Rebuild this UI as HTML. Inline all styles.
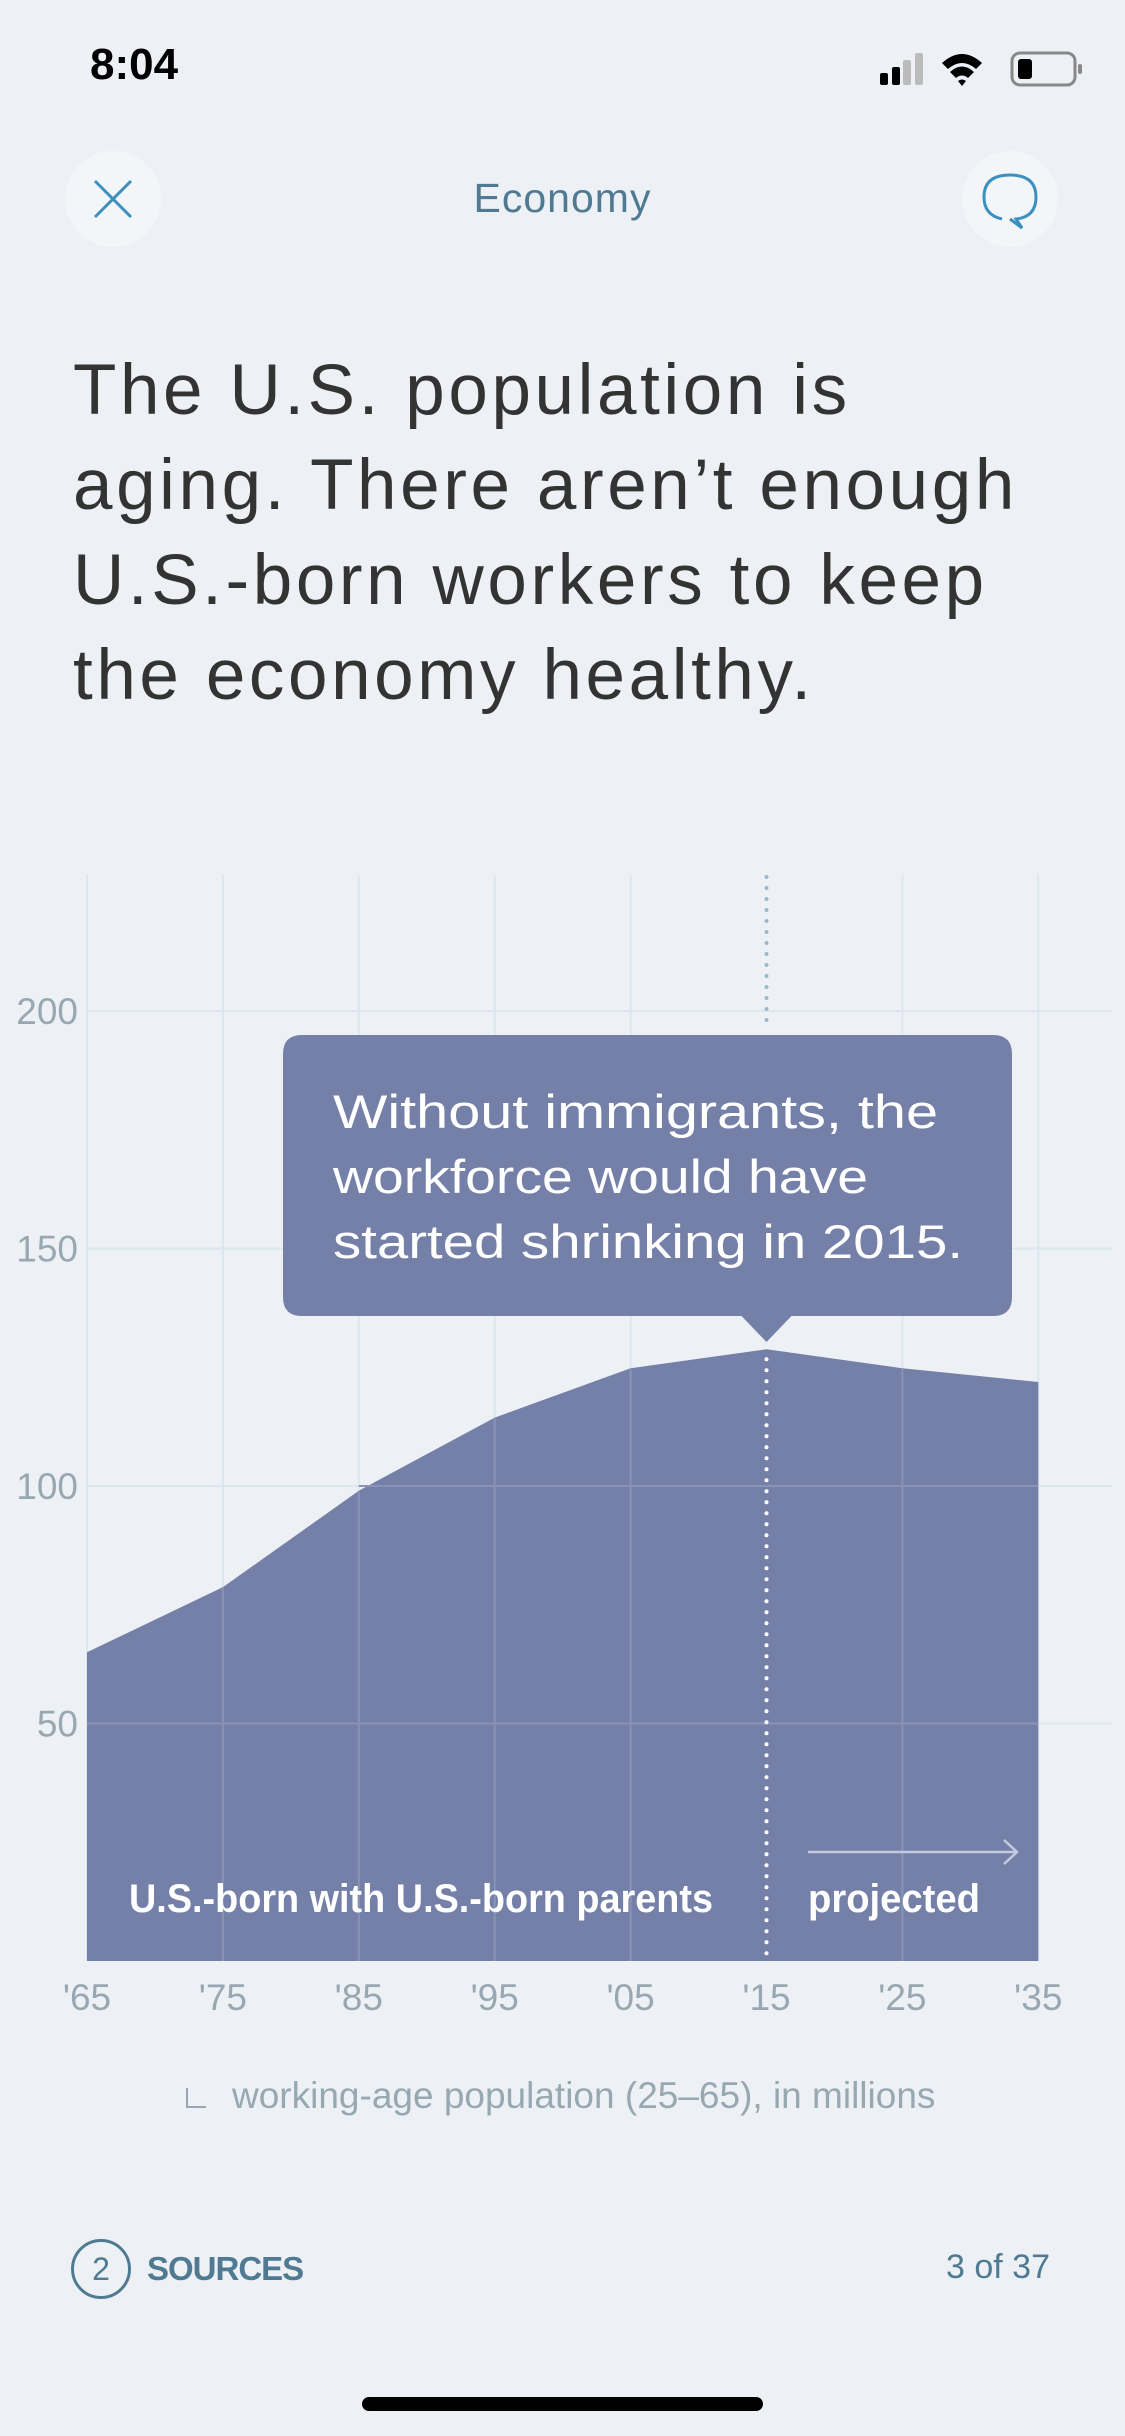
<!DOCTYPE html>
<html><head><meta charset="utf-8">
<style>
html,body{margin:0;padding:0;}
body{width:1125px;height:2436px;background:#edf1f5;position:relative;overflow:hidden;font-family:"Liberation Sans",sans-serif;}
.abs{position:absolute;}
.narrow{font-family:"Liberation Sans Narrow","Liberation Sans",sans-serif;}
</style></head>
<body>
<div class="abs" style="left:90px;top:40px;font-size:44px;font-weight:bold;color:#000;">8:04</div>
<svg class="abs" style="left:870px;top:45px" width="220" height="45">
 <rect x="10" y="28" width="8" height="12" rx="2" fill="#000"/><rect x="22" y="22" width="8" height="18" rx="2" fill="#000"/>
 <rect x="33" y="15" width="8" height="25" rx="2" fill="#bbb"/><rect x="45" y="8" width="8" height="32" rx="2" fill="#bbb"/>
 <path d="M72 18 Q92 0 112 18 L106 24 Q92 12 78 24Z M80 27 Q92 16 104 27 L98 33 Q92 28 86 33Z M88 36 L92 41 L96 36 Q92 33 88 36Z" fill="#000"/>
 <rect x="142" y="8" width="63" height="32" rx="8" fill="none" stroke="#888" stroke-width="3"/>
 <rect x="148" y="14" width="14" height="20" rx="3" fill="#000"/><rect x="208" y="19" width="4" height="10" rx="2" fill="#888"/>
</svg>
<div class="abs" style="left:65px;top:151px;width:96px;height:96px;border-radius:50%;background:#f3f6f8;">
 <svg width="96" height="96"><path d="M30 30 L66 66 M66 30 L30 66" stroke="#3d8fc0" stroke-width="3"/></svg></div>
<div class="abs" style="left:0;width:1125px;text-align:center;top:175px;font-size:41px;letter-spacing:1px;color:#4f7a92;">Economy</div>
<div class="abs" style="left:962px;top:151px;width:96px;height:96px;border-radius:50%;background:#f3f6f8;">
 <svg width="96" height="96"><path d="M40 68 Q22 64 22 46 Q22 24 48 24 Q74 24 74 46 Q74 66 54 68 L60 77 L48 68" fill="none" stroke="#3d8fc0" stroke-width="3"/></svg></div>
<div class="abs" style="left:73px;top:343px;width:1060px;font-size:71px;letter-spacing:3.6px;line-height:95px;color:#333;white-space:nowrap;">The U.S. population is<br>aging. There aren’t enough<br>U.S.-born workers to keep<br>the economy healthy.</div>

<svg class="abs" id="chart" style="left:0;top:0" width="1125" height="2436"></svg>

<div class="abs narrow" style="left:186px;top:2075px;font-size:37px;color:#98a8b3;"><span style="display:inline-block;width:18px;height:18px;border-left:2px solid #98a8b3;border-bottom:2px solid #98a8b3;margin-right:26px;"></span>working-age population (25–65), in millions</div>
<div class="abs" style="left:71px;top:2241px;height:56px;display:flex;align-items:center;">
 <span style="width:54px;height:54px;border:3px solid #4f7a92;border-radius:50%;display:inline-flex;align-items:center;justify-content:center;font-size:32px;color:#4f7a92;">2</span>
 <span class="narrow" style="margin-left:16px;font-size:33px;font-weight:bold;color:#4f7a92;letter-spacing:-1px;">SOURCES</span></div>
<div class="abs" style="right:75px;top:2248px;font-size:34px;color:#4f7a92;">3 of 37</div>
<div class="abs" style="left:362px;top:2397px;width:401px;height:14px;border-radius:7px;background:#000;"></div>

<script>
const years=["'65","'75","'85","'95","'05","'15","'25","'35"];
const values=[65,78.7,99,114.4,124.8,128.8,124.8,121.9];
const yTicks=[50,100,150,200];
const x0=87,dx=135.9,y0=1961,ppu=4.75;
function X(i){return x0+i*dx;}
function Y(v){return y0-v*ppu;}
const svg=document.getElementById('chart');
const NS='http://www.w3.org/2000/svg';
function mk(t,a){const e=document.createElementNS(NS,t);for(const k in a)e.setAttribute(k,a[k]);svg.appendChild(e);return e;}
yTicks.forEach(v=>{
 const l=mk('line',{x1:X(0),x2:1112,y1:Y(v),y2:Y(v),stroke:'#dbe6ef','stroke-width':2});
 
 
 const t=mk('text',{x:78,y:Y(v)+13,'text-anchor':'end','font-size':37,fill:'#98a8b3','font-family':'Liberation Sans, sans-serif'});
 t.textContent=v;
 
 
});
years.forEach((y,i)=>{
 if(i!==5){const l=mk('line',{x1:X(i),x2:X(i),y1:875,y2:y0,stroke:'#dbe6ef','stroke-width':2});
 
 }
 const t=mk('text',{x:X(i),y:2010,'text-anchor':'middle','font-size':37,fill:'#98a8b3','font-family':'Liberation Sans, sans-serif'});
 t.textContent=y;
 
 
});
let d='M'+X(0)+' '+y0;
values.forEach((v,i)=>{d+=' L'+X(i)+' '+Y(v);});
d+=' L'+X(values.length-1)+' '+y0+' Z';
const a=mk('path',{d:d,fill:'#7480a8'});


years.forEach((y,i)=>{ if(i>0&&i<7&&i!==5){const l=mk('line',{x1:X(i),x2:X(i),y1:Y(values[i]),y2:y0,stroke:'#8893b5','stroke-width':2});
 
 }});
yTicks.forEach(v=>{ if(v<values[0]){const l=mk('line',{x1:X(0),x2:X(7),y1:Y(v),y2:Y(v),stroke:'#8893b5','stroke-width':2});
 
 }});
const gl=mk('line',{x1:X(2),x2:X(7),y1:Y(100),y2:Y(100),stroke:'#8893b5','stroke-width':2});


const d1=mk('line',{x1:X(5),x2:X(5),y1:877,y2:1025,stroke:'#9ab8c8','stroke-width':4,'stroke-dasharray':'0 11','stroke-linecap':'round'});


const d2=mk('line',{x1:X(5),x2:X(5),y1:Y(values[5])+10,y2:y0-4,stroke:'#fff','stroke-width':4,'stroke-dasharray':'0 11','stroke-linecap':'round'});


const cb=mk('path',{d:'M302 1035 H993 Q1012 1035 1012 1054 V1297 Q1012 1316 993 1316 H'+(X(5)+25)+' L'+X(5)+' 1342 L'+(X(5)-25)+' 1316 H302 Q283 1316 283 1297 V1054 Q283 1035 302 1035Z',fill:'#7480a8'});


const cw=[605,535,630];
["Without immigrants, the","workforce would have","started shrinking in 2015."].forEach((s,i)=>{
 const t=mk('text',{x:333,y:1128+i*65,'font-size':47,fill:'#fff','font-family':'Liberation Sans, sans-serif',textLength:cw[i],lengthAdjust:'spacingAndGlyphs'});
 t.textContent=s;
 
 
});
const l1=mk('text',{x:129,y:1912,'font-size':40,'font-weight':'bold',fill:'#fff','font-family':'Liberation Sans, sans-serif',textLength:584,lengthAdjust:'spacingAndGlyphs'});
l1.textContent='U.S.-born with U.S.-born parents';


const l2=mk('text',{x:808,y:1912,'font-size':40,'font-weight':'bold',fill:'#fff','font-family':'Liberation Sans, sans-serif',textLength:172,lengthAdjust:'spacingAndGlyphs'});
l2.textContent='projected';


const ar=mk('path',{d:'M808 1852 H1016 M1004 1840 L1017 1852 L1004 1864',stroke:'#c3c9de','stroke-width':2.5,fill:'none'});


</script>
</body></html>
